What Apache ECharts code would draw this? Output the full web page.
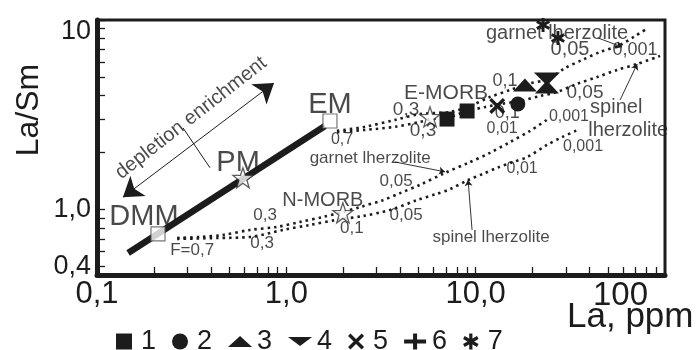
<!DOCTYPE html>
<html>
<head>
<meta charset="utf-8">
<script src="https://cdn.jsdelivr.net/npm/echarts@6/dist/echarts.min.js"></script>
<style>
html,body{margin:0;padding:0;background:#fff;}
#chart{width:699px;height:350px;}
</style>
</head>
<body>
<div id="chart"></div>
<script>
// ---- data (La ppm, La/Sm) ----
const X_TICKS = [0.2,0.3,0.4,0.5,0.6,0.7,0.8,0.9,1,2,3,4,5,6,7,8,9,10,20,30,40,50,60,70,80,90];
const Y_TICKS = [0.5,0.6,0.7,0.8,0.9,1,2,3,4,5,6,7,8,9,10];
const X_LABELS = {'0.1':'0,1','1':'1,0','10':'10,0','100':''};
const Y_LABELS = ['0,4','1,0','10'];

const MANTLE_LINE = [[0.146,0.589],[1.60,2.76]];
const RESERVOIRS = [[0.210,0.743],[1.70,2.93]];           // DMM, EM
const BASALTS = [[0.590,1.47],[1.99,0.959],[5.74,3.08]];  // PM, N-MORB, E-MORB

const DMM_GARNET = [[0.265,0.707],[0.350,0.716],[0.463,0.734],[0.643,0.780],[0.893,0.809],[1.18,0.859],[1.56,0.913],[1.99,0.970],[2.45,1.03],[3.24,1.12],[3.99,1.22],[5.09,1.35],[6.89,1.56],[9.12,1.76],[11.9,1.99],[15.2,2.27],[19.4,2.60],[24.1,3.00]];
const DMM_SPINEL = [[0.265,0.699],[0.430,0.707],[0.643,0.716],[0.961,0.780],[1.33,0.828],[1.85,0.881],[2.54,0.924],[3.53,0.994],[4.90,1.12],[6.25,1.21],[7.32,1.28],[9.12,1.43],[10.9,1.54],[13.0,1.66],[15.8,1.78],[18.7,1.89],[23.8,2.19],[28.6,2.41],[34.7,2.63]];
const EM_GARNET = [[1.85,2.60],[2.60,2.73],[3.75,2.97],[5.09,3.19],[7.32,3.27],[9.34,3.52],[11.9,3.92],[15.2,4.27],[18.9,4.60],[24.1,4.88],[29.7,5.58],[36.5,6.15],[45.4,6.78],[57.9,7.38],[69.5,8.23],[81.4,9.07]];
const EM_SPINEL = [[1.85,2.56],[2.60,2.63],[3.75,2.73],[5.09,2.90],[5.89,3.00],[7.06,3.04],[9.01,3.31],[11.2,3.47],[13.5,3.60],[17.2,3.74],[21.9,3.97],[26.9,4.17],[34.3,4.60],[43.8,5.00],[55.8,5.45],[71.3,5.86],[94.2,6.46]];

const S1 = [[7.06,3.00],[9.01,3.31]];
const S2 = [[16.7,3.60]];
const S3 = [[18.2,4.54],[23.8,4.43]];
const S4 = [[23.8,4.88]];
const S5 = [[13.0,3.52]];
const S6 = [];
const S7 = [[22.7,9.41],[27.2,8.04]];

const ARROW_MAIN = [[0.137,1.16],[0.861,4.65]];
const ARROW_CROSS = [[0.285,2.69],[0.395,1.66]];
const POINTERS = [
  [[3.75,1.78],[6.89,1.58]],
  [[9.57,0.780],[9.12,1.43]],
  [[57.9,3.78],[71.3,5.86]],
  [[44.3,8.04],[59.3,7.20]]
];

// annotations: text, [La, La/Sm], font size
const NOTES = [
  ['DMM',[0.177,0.913],29],['PM',[0.556,1.76],29],['EM',[1.70,3.56],29],
  ['N-MORB',[1.56,1.12],20],['E-MORB',[6.98,4.12],21],
  ['F=0,7',[0.318,0.611],17],['0,3',[0.772,0.935],17],['0,3',[0.744,0.666],17],
  ['0,1',[2.22,0.799],17],['0,05',[3.80,1.41],17],['0,05',[4.29,0.935],17],
  ['garnet lherzolite',[2.77,1.87],17],['0,7',[1.97,2.33],16],
  ['0,3',[4.29,3.35],19],['0,3',[5.27,2.60],19],['0,1',[14.3,4.77],18],['0,1',[14.7,3.23],18],
  ['0,05',[31.5,6.95],20],['0,001',[69.5,6.95],18],['0,05',[37.8,4.12],19],
  ['0,01',[13.8,2.66],16],['0,001',[31.1,3.08],16],['0,01',[17.6,1.64],16],['0,001',[36.9,2.14],16],
  ['garnet lherzolite',[26.9,8.54],20],['spinel lherzolite',[12.06,0.716],17]
];
const NOTES_LEFT = [['spinel',[40.2,3.47],20],['lherzolite',[39.3,2.60],20]];
const NOTE_ROT = ['depletion enrichment',[0.314,3.04],20,38];

// ---- symbols ----
const STAR = 'path://M10,0L12.35,6.76L19.51,6.91L13.8,11.24L15.88,18.09L10,14L4.12,18.09L6.2,11.24L0.49,6.91L7.65,6.76Z';
const SQ = 'path://M0,0h10v10h-10z';
const CIRC = 'path://M5,0A5,5,0,1,1,5,10A5,5,0,1,1,5,0Z';
const TRI_UP = 'path://M0,10L11,0L22,10Z';
const TRI_DN = 'path://M0,0L24,0L12,9Z';
const XMARK = 'path://M0,1.5L1.5,0L10,8.5L8.5,10Z M8.5,0L10,1.5L1.5,10L0,8.5Z';
const PLUS = 'path://M9,0h4v16h-4zM0,6h22v4h-22z';
const AST = 'path://M4,0L6,0L6,10L4,10Z M0.17,3.37L1.17,1.63L9.83,6.63L8.83,8.37Z M8.83,1.63L9.83,3.37L1.17,8.37L0.17,6.63Z';

const INK = '#1c1c1c';
const FONT = 'Liberation Sans, Arial, sans-serif';

function dotted(name, data){
  return {name, type:'line', data, showSymbol:false, symbol:'none', smooth:0.3, z:2,
    lineStyle:{color:INK, width:2.6, type:[2.5,4], cap:'butt'}, silent:true};
}
function pts(name, data, symbol, size){
  return {name, type:'scatter', data, symbol, symbolSize:size, symbolKeepAspect:false, z:6,
    itemStyle:{color:INK, opacity:1}};
}

const chart = echarts.init(document.getElementById('chart'), null, {renderer:'canvas'});

const noteData = NOTES.map(n => ({name:n[0], value:n[1], label:{fontSize:n[2]}}));
const noteLeftData = NOTES_LEFT.map(n => ({name:n[0], value:n[1], label:{fontSize:n[2]}}));

chart.setOption({
  animation:false,
  textStyle:{fontFamily:FONT, color:INK},
  grid:{left:97, right:34, top:20, bottom:75, show:true, borderColor:INK, borderWidth:3},
  xAxis:{type:'log', logBase:10, min:0.1, max:100,
    axisLine:{show:true, lineStyle:{color:INK, width:5}},
    axisTick:{show:true, inside:true, length:8, lineStyle:{color:INK, width:1.3}, customValues:X_TICKS},
    axisLabel:{show:true, fontSize:31, color:INK, fontFamily:FONT, margin:4,
      formatter:v => { const k = String(Math.round(v*10)/10); return X_LABELS[k] !== undefined ? X_LABELS[k] : ''; }},
    splitLine:{show:false}},
  yAxis:{type:'log', logBase:10, min:0.451, max:10,
    axisLine:{show:true, lineStyle:{color:INK, width:5}},
    axisTick:{show:true, inside:true, length:8, lineStyle:{color:INK, width:1.3}, customValues:Y_TICKS},
    axisLabel:{show:true, showMinLabel:true, showMaxLabel:true, fontSize:27, color:INK, fontFamily:FONT, margin:6,
      formatter:v => v < 0.7 ? '{lo|'+Y_LABELS[0]+'}' : (v < 5 ? Y_LABELS[1] : '{hi|'+Y_LABELS[2]+'}'),
      rich:{lo:{fontSize:27, padding:[0,0,16,0], fontFamily:FONT, color:INK}, hi:{fontSize:27, padding:[24,0,0,0], fontFamily:FONT, color:INK}}},
    splitLine:{show:false}},
  legend:{left:111, top:323, itemWidth:24, itemHeight:16, itemGap:16,
    textStyle:{fontSize:27, color:INK, fontFamily:FONT},
    data:[{name:'1',icon:SQ},{name:'2',icon:CIRC},{name:'3',icon:TRI_UP},{name:'4',icon:TRI_DN},{name:'5',icon:XMARK},{name:'6',icon:PLUS},{name:'7',icon:AST}]},
  graphic:[
    {type:'text', left:593, top:279, style:{text:'100', font:'33px '+FONT, fill:INK}},
    {type:'text', left:567, top:300, style:{text:'La, ppm', font:'35px '+FONT, fill:INK}},
    {type:'text', x:29, y:110, rotation:Math.PI/2, style:{text:'La/Sm', font:'32px '+FONT, fill:INK, align:'center', verticalAlign:'middle'}}
  ],
  series:[
    dotted('dmmGarnet', DMM_GARNET),
    dotted('dmmSpinel', DMM_SPINEL),
    dotted('emGarnet', EM_GARNET),
    dotted('emSpinel', EM_SPINEL),
    {name:'mantle', type:'line', data:MANTLE_LINE, showSymbol:false, symbol:'none', z:4,
      lineStyle:{color:INK, width:6.5, cap:'butt'}},
    {name:'arrowMain', type:'lines', coordinateSystem:'cartesian2d', z:3,
      symbol:['arrow','arrow'], symbolSize:19,
      lineStyle:{color:INK, width:1, opacity:1}, data:[{coords:ARROW_MAIN}]},
    {name:'arrowCross', type:'lines', coordinateSystem:'cartesian2d', z:3, symbol:['none','none'],
      lineStyle:{color:INK, width:1, opacity:1}, data:[{coords:ARROW_CROSS}]},
    {name:'pointers', type:'lines', coordinateSystem:'cartesian2d', z:3, symbol:['none','arrow'], symbolSize:6,
      lineStyle:{color:INK, width:0.9, opacity:1}, data:POINTERS.map(c => ({coords:c}))},
    {name:'reservoirs', type:'scatter', data:RESERVOIRS, symbol:'rect', symbolSize:14, z:5,
      itemStyle:{color:'#fff', borderColor:'#555', borderWidth:1.2}},
    {name:'basalts', type:'scatter', data:BASALTS, symbol:STAR, symbolSize:20, z:5,
      itemStyle:{color:'#fff', borderColor:'#333', borderWidth:1.3}},
    pts('1', S1, SQ, 15),
    pts('2', S2, CIRC, 15),
    pts('3', S3, 'triangle', [24,13]),
    pts('4', S4, TRI_DN, [26,13]),
    pts('5', S5, XMARK, 16),
    pts('6', S6, PLUS, 16),
    pts('7', S7, AST, 14),
    {name:'notes', type:'scatter', data:noteData, symbolSize:0, z:7, silent:true,
      label:{show:true, position:'inside', formatter:'{b}', color:INK, fontFamily:FONT}},
    {name:'notesLeft', type:'scatter', data:noteLeftData, symbolSize:0, z:7, silent:true,
      label:{show:true, position:'inside', align:'left', formatter:'{b}', color:INK, fontFamily:FONT}},
    {name:'noteRot', type:'scatter', data:[{name:NOTE_ROT[0], value:NOTE_ROT[1]}], symbolSize:0, z:7, silent:true,
      label:{show:true, position:'inside', formatter:'{b}', rotate:NOTE_ROT[3], fontSize:NOTE_ROT[2], color:INK, fontFamily:FONT}}
  ]
});
</script>
</body>
</html>
